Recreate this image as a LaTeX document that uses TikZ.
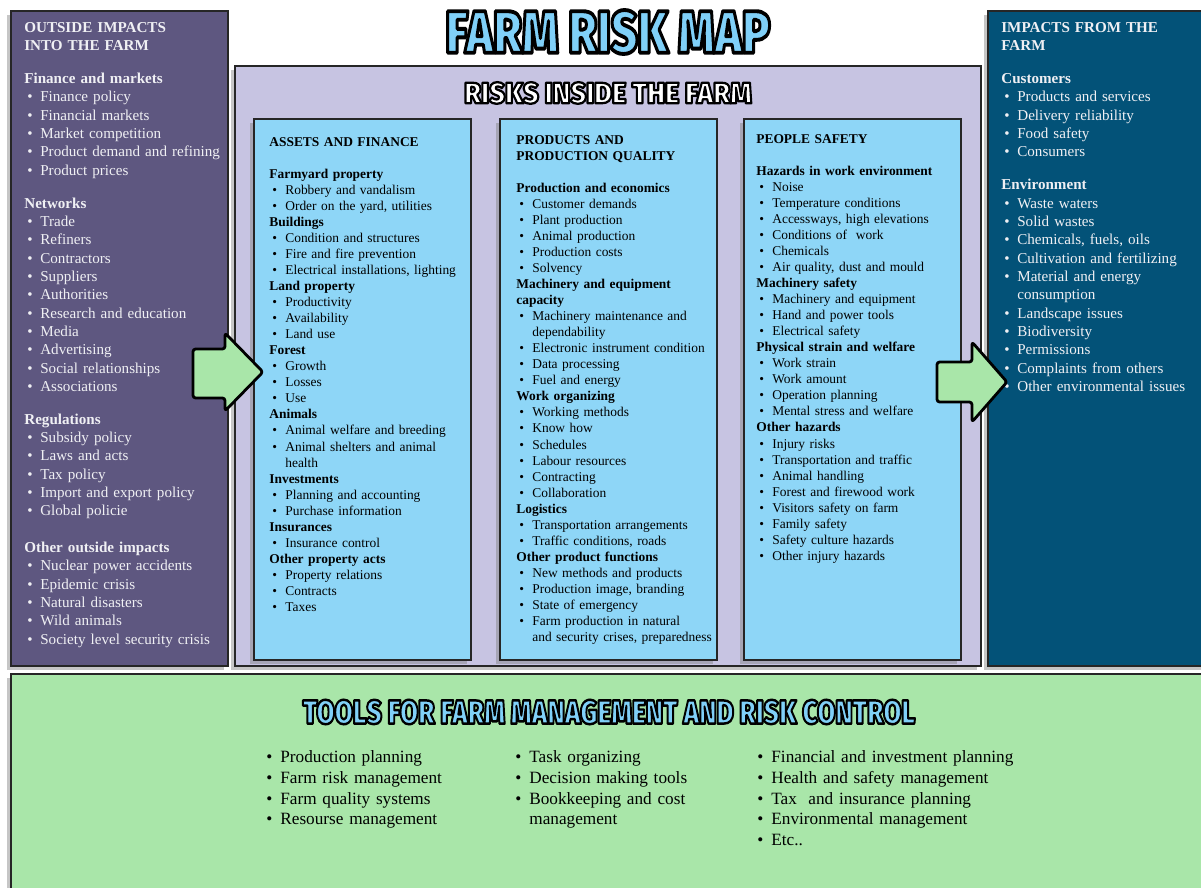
\documentclass[tikz,border=0pt]{standalone}
\usepackage{fontspec}
\setmainfont{Liberation Serif}
\IfFontExistsTF{Fira Sans Heavy}
  {\newfontfamily\bannerfont{Fira Sans Heavy}}
  {\IfFontExistsTF{Fira Sans Black}
    {\newfontfamily\bannerfont{Fira Sans Black}}
    {\newfontfamily\bannerfont{Liberation Sans Bold}}}
\usetikzlibrary{shadows}

\definecolor{outpurple}{RGB}{94,87,128}
\definecolor{inlavender}{RGB}{199,196,226}
\definecolor{fromteal}{RGB}{3,82,120}
\definecolor{colblue}{RGB}{142,214,247}
\definecolor{toolgreen}{RGB}{169,230,169}
\definecolor{bannerblue}{RGB}{128,208,248}
\definecolor{paletext}{RGB}{240,240,244}

% bullet lists
\newlength\bulpos
\newlength\bulind
\setlength\bulpos{1.7pt}
\setlength\bulind{9.1pt}
\newcommand\itm[1]{\par\noindent\makebox[\bulind][l]{\hspace{\bulpos}\textbullet}#1}
\newcommand\itmx[2]{\itm{#1}\par\noindent\hspace*{\bulind}#2}
\newcommand\grp[1]{\par\noindent\textbf{#1}}
\newcommand\gap[1]{\par\vspace{#1}}
% outlined banner text (fill + black stroke)
\newcommand\outlined[2]{\special{pdf:literal direct 2 Tr #1 w 0 0 0 RG 1 j}#2%
  \special{pdf:literal direct 0 Tr}}

\tikzset{
  panel/.style={draw=black!85, line width=0.8pt,
    drop shadow={shadow xshift=-2.5pt, shadow yshift=-2pt, opacity=0.45}},
  outlist/.style={anchor=north west, inner sep=0pt, align=left,
    text width=4.3cm, text=paletext, font=\fontsize{8.6}{10.43}\selectfont},
  collist/.style={anchor=north west, inner sep=0pt, align=left,
    text width=4.1cm, font=\fontsize{7.65}{9.13}\selectfont},
  toollist/.style={anchor=north west, inner sep=0pt, align=left,
    text width=5.2cm, font=\fontsize{9.8}{11.73}\selectfont},
  arrowbox/.style={fill=toolgreen, draw=black, line width=1.6pt,
    rounded corners=1.5pt, line join=round},
  banner/.style={inner sep=0pt, anchor=center},
}

\begin{document}
\begin{tikzpicture}[x=0.02cm, y=-0.02cm]

    \useasboundingbox (0,0) rectangle (1201,888);

    % Panels
    \filldraw[panel, fill=toolgreen] (11,674) rectangle (1220,900);
    \filldraw[panel, fill=outpurple] (11,11) rectangle (228,666);
    \filldraw[panel, fill=inlavender] (235,66) rectangle (981,666);
    \filldraw[panel, fill=fromteal] (988,11) rectangle (1220,666);
    % Risk columns
    \foreach \cx in {254,500,744}{
        \filldraw[panel, fill=colblue] (\cx,119) rectangle ++(217,541);
    }

    % Banners
    \node[banner] (maptitle) at (608,32)
        {\bannerfont\fontsize{34}{34}\selectfont\color{bannerblue}%
         \scalebox{0.77}[1]{\outlined{2.2}{FARM RISK MAP}}};
    \node[banner] (insidetitle) at (608,93)
        {\bannerfont\fontsize{16.8}{17}\selectfont\color{white}%
         \scalebox{0.92}[1]{\outlined{1.3}{RISKS INSIDE THE FARM}}};
    \node[banner] (tooltitle) at (609,712)
        {\bannerfont\fontsize{19}{19}\selectfont\color{bannerblue}%
         \scalebox{0.79}[1]{\outlined{1.4}{TOOLS FOR FARM MANAGEMENT AND RISK CONTROL}}};

    % Outside impacts
    \node[outlist] (outside) at (24,22) {%
        \noindent\textbf{OUTSIDE IMPACTS\newline INTO THE FARM}\gap{8.3pt}
        \grp{Finance and markets}
        \itm{Finance policy}
        \itm{Financial markets}
        \itm{Market competition}
        \itm{Product demand and refining}
        \itm{Product prices}\gap{8.3pt}
        \grp{Networks}
        \itm{Trade}
        \itm{Refiners}
        \itm{Contractors}
        \itm{Suppliers}
        \itm{Authorities}
        \itm{Research and education}
        \itm{Media}
        \itm{Advertising}
        \itm{Social relationships}
        \itm{Associations}\gap{8.3pt}
        \grp{Regulations}
        \itm{Subsidy policy}
        \itm{Laws and acts}
        \itm{Tax policy}
        \itm{Import and export policy}
        \itm{Global policie}\gap{10.5pt}
        \grp{Other outside impacts}
        \itm{Nuclear power accidents}
        \itm{Epidemic crisis}
        \itm{Natural disasters}
        \itm{Wild animals}
        \itm{Society level security crisis}};

    % Assets and finance
    \node[collist] (assets) at (269,137) {%
        \noindent\textbf{ASSETS AND FINANCE}\gap{9.13pt}
        \grp{Farmyard property}
        \itm{Robbery and vandalism}
        \itm{Order on the yard, utilities}
        \grp{Buildings}
        \itm{Condition and structures}
        \itm{Fire and fire prevention}
        \itm{Electrical installations, lighting}
        \grp{Land property}
        \itm{Productivity}
        \itm{Availability}
        \itm{Land use}
        \grp{Forest}
        \itm{Growth}
        \itm{Losses}
        \itm{Use}
        \grp{Animals}
        \itm{Animal welfare and breeding}
        \itmx{Animal shelters and animal}{health}
        \grp{Investments}
        \itm{Planning and accounting}
        \itm{Purchase information}
        \grp{Insurances}
        \itm{Insurance control}
        \grp{Other property acts}
        \itm{Property relations}
        \itm{Contracts}
        \itm{Taxes}};

    % Products and production quality
    \node[collist] (products) at (516,135) {%
        \noindent\textbf{PRODUCTS AND\newline PRODUCTION QUALITY}\gap{9.13pt}
        \grp{Production and economics}
        \itm{Customer demands}
        \itm{Plant production}
        \itm{Animal production}
        \itm{Production costs}
        \itm{Solvency}
        \grp{Machinery and equipment\newline capacity}
        \itmx{Machinery maintenance and}{dependability}
        \itm{Electronic instrument condition}
        \itm{Data processing}
        \itm{Fuel and energy}
        \grp{Work organizing}
        \itm{Working methods}
        \itm{Know how}
        \itm{Schedules}
        \itm{Labour resources}
        \itm{Contracting}
        \itm{Collaboration}
        \grp{Logistics}
        \itm{Transportation arrangements}
        \itm{Traffic conditions, roads}
        \grp{Other product functions}
        \itm{New methods and products}
        \itm{Production image, branding}
        \itm{State of emergency}
        \itmx{Farm production in natural}{and security crises, preparedness}};

    % People safety
    \node[collist] (people) at (756,134) {%
        \noindent\textbf{PEOPLE SAFETY}\gap{9.13pt}
        \grp{Hazards in work environment}
        \itm{Noise}
        \itm{Temperature conditions}
        \itm{Accessways, high elevations}
        \itm{Conditions of~ work}
        \itm{Chemicals}
        \itm{Air quality, dust and mould}
        \grp{Machinery safety}
        \itm{Machinery and equipment}
        \itm{Hand and power tools}
        \itm{Electrical safety}
        \grp{Physical strain and welfare}
        \itm{Work strain}
        \itm{Work amount}
        \itm{Operation planning}
        \itm{Mental stress and welfare}
        \grp{Other hazards}
        \itm{Injury risks}
        \itm{Transportation and traffic}
        \itm{Animal handling}
        \itm{Forest and firewood work}
        \itm{Visitors safety on farm}
        \itm{Family safety}
        \itm{Safety culture hazards}
        \itm{Other injury hazards}};

    % Impacts from the farm
    \node[outlist] (fromfarm) at (1001,22) {%
        \noindent\textbf{IMPACTS FROM THE\newline FARM}\gap{8.3pt}
        \grp{Customers}
        \itm{Products and services}
        \itm{Delivery reliability}
        \itm{Food safety}
        \itm{Consumers}\gap{8.3pt}
        \grp{Environment}
        \itm{Waste waters}
        \itm{Solid wastes}
        \itm{Chemicals, fuels, oils}
        \itm{Cultivation and fertilizing}
        \itmx{Material and energy}{consumption}
        \itm{Landscape issues}
        \itm{Biodiversity}
        \itm{Permissions}
        \itm{Complaints from others}
        \itm{Other environmental issues}};

    % Tools
    \setlength\bulpos{0pt}
    \setlength\bulind{8pt}
    \node[toollist] (toolsa) at (266,742) {%
        \itm{Production planning}
        \itm{Farm risk management}
        \itm{Farm quality systems}
        \itm{Resourse management}};
    \node[toollist] (toolsb) at (515,742) {%
        \itm{Task organizing}
        \itm{Decision making tools}
        \itmx{Bookkeeping and cost}{management}};
    \node[toollist] (toolsc) at (757,742) {%
        \itm{Financial and investment planning}
        \itm{Health and safety management}
        \itm{Tax~ and insurance planning}
        \itm{Environmental management}
        \itm{Etc..}};

    % Arrows
    \filldraw[arrowbox] (193,349) -- (225,349) -- (225,333) -- (263,372)
        -- (225,411) -- (225,398) -- (193,398) -- cycle;
    \filldraw[arrowbox] (937,362) -- (972,362) -- (972,342) -- (1007,382)
        -- (972,422) -- (972,402) -- (937,402) -- cycle;

\end{tikzpicture}
\end{document}
